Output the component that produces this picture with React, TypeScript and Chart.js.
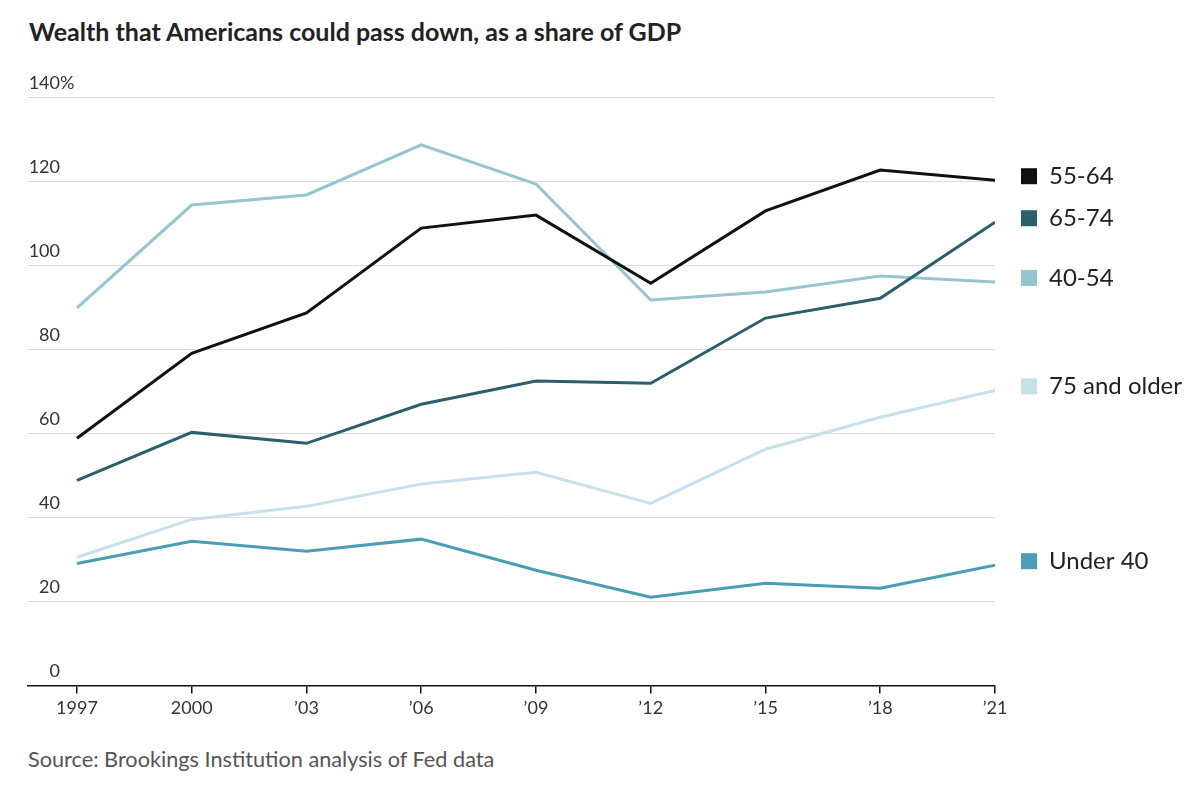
import React, { useEffect, useRef } from "react";
import { Chart, registerables } from "chart.js";

Chart.register(...registerables);

const years = [1997, 2000, 2003, 2006, 2009, 2012, 2015, 2018, 2021];
const yearLabels = ["1997", "2000", "\u201903", "\u201906", "\u201909", "\u201912", "\u201915", "\u201918", "\u201921"];
const age5564 = [58.8, 79.0, 88.6, 108.8, 111.9, 95.7, 112.9, 122.6, 120.2];
const age6574 = [48.8, 60.2, 57.6, 66.9, 72.4, 71.9, 87.4, 92.1, 110.2];
const age4054 = [89.8, 114.3, 116.7, 128.6, 119.3, 91.7, 93.6, 97.4, 96.0];
const age75plus = [30.5, 39.5, 42.6, 47.9, 50.7, 43.3, 56.2, 63.8, 70.2];
const under40 = [29.0, 34.3, 31.9, 34.8, 27.4, 21.0, 24.3, 23.1, 28.6];
const yTicks = [0, 20, 40, 60, 80, 100, 120, 140];

const seriesNames = ["55-64", "65-74", "40-54", "75 and older", "Under 40"];
const seriesValues = [age5564, age6574, age4054, age75plus, under40];
const seriesColors = ["#111111", "#2b5f6a", "#96c4d0", "#c6e1eb", "#4a9db4"];

const FONT = "Lato, 'Noto Sans', sans-serif";

const yLabelPlugin = {
  id: "yLabels",
  afterDraw(chart: any) {
    const { ctx } = chart;
    const y = chart.scales.y;
    ctx.save();
    ctx.font = `18px ${FONT}`;
    ctx.fillStyle = "#333";
    ctx.textBaseline = "bottom";
    yTicks.forEach((v) => {
      const py = y.getPixelForValue(v);
      ctx.textAlign = "right";
      ctx.fillText(String(v), 60, py - 5);
      if (v === yTicks[yTicks.length - 1]) {
        ctx.textAlign = "left";
        ctx.fillText("%", 60, py - 5);
      }
    });
    ctx.restore();
  },
};

const endLegendPlugin = {
  id: "endLegend",
  afterDraw(chart: any) {
    const { ctx } = chart;
    const y = chart.scales.y;
    ctx.save();
    ctx.font = `24px ${FONT}`;
    ctx.textBaseline = "middle";
    ctx.textAlign = "left";
    seriesNames.forEach((name, i) => {
      const vals = seriesValues[i];
      const py = y.getPixelForValue(vals[vals.length - 1]) - 4;
      ctx.fillStyle = seriesColors[i];
      ctx.fillRect(1021, py - 8, 16, 16);
      ctx.fillStyle = "#222";
      ctx.fillText(name, 1049, py);
    });
    ctx.restore();
  },
};

export default function App() {
  const ref = useRef<HTMLCanvasElement>(null);

  useEffect(() => {
    if (!ref.current) return;
    const chart = new Chart(ref.current, {
      type: "line",
      data: {
        datasets: seriesNames.map((name, i) => ({
          label: name,
          data: years.map((yr, j) => ({ x: yr, y: seriesValues[i][j] })),
          borderColor: seriesColors[i],
          backgroundColor: seriesColors[i],
          borderWidth: 3,
          pointRadius: 0,
          tension: 0,
          fill: false,
        })),
      },
      options: {
        animation: false,
        responsive: false,
        maintainAspectRatio: false,
        layout: { padding: { left: 28, right: 205, top: 97, bottom: 0 } },
        plugins: {
          legend: { display: false },
          tooltip: { enabled: false },
          title: { display: false },
        },
        scales: {
          x: {
            type: "linear",
            min: 1995.72,
            max: 2021,
            afterBuildTicks: (scale: any) => {
              scale.ticks = years.map((v) => ({ value: v }));
            },
            ticks: {
              autoSkip: false,
              maxRotation: 0,
              padding: 4,
              color: "#333",
              font: { family: FONT, size: 18 },
              callback: (v: any) => {
                const idx = years.indexOf(Number(v));
                return idx >= 0 ? yearLabels[idx] : "";
              },
            },
            grid: {
              drawOnChartArea: false,
              drawTicks: true,
              tickLength: 8,
              color: "#111",
              lineWidth: 1.5,
            },
            border: { display: true, color: "#111", width: 1.5 },
          },
          y: {
            min: 0,
            max: 140,
            afterBuildTicks: (scale: any) => {
              scale.ticks = yTicks.map((v) => ({ value: v }));
            },
            ticks: { display: false },
            grid: { color: "#dddddd", lineWidth: 1, drawTicks: false },
            border: { display: false },
          },
        },
      },
      plugins: [yLabelPlugin, endLegendPlugin],
    });
    return () => chart.destroy();
  }, []);

  return (
    <div style={{ position: "absolute", left: 0, top: 0, width: 1200, height: 796, background: "#fff" }}>
      <div
        style={{
          position: "absolute",
          left: 29,
          top: 16,
          fontFamily: FONT,
          fontWeight: 700,
          fontSize: 25,
          color: "#222",
          whiteSpace: "nowrap",
        }}
      >
        Wealth that Americans could pass down, as a share of GDP
      </div>
      <canvas ref={ref} width={1200} height={723} style={{ position: "absolute", left: 0, top: 0 }} />
      <div
        style={{
          position: "absolute",
          left: 28,
          top: 746,
          fontFamily: FONT,
          fontSize: 21.7,
          color: "#555",
          whiteSpace: "nowrap",
        }}
      >
        Source: Brookings Institution analysis of Fed data
      </div>
    </div>
  );
}
